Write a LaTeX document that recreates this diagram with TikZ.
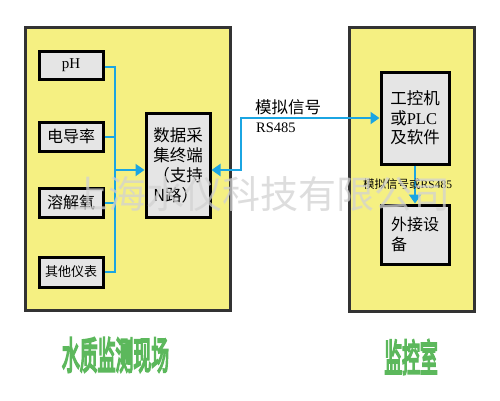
\documentclass[tikz,border=0pt]{standalone}
\usepackage{fontspec}
\setmainfont{Liberation Serif}
\newfontfamily\cjk{Noto Sans CJK SC}
\newfontfamily\cjkh[FakeBold=6]{Noto Sans CJK SC}
\usetikzlibrary{arrows.meta}
\definecolor{areafill}{RGB}{245,240,130}
\definecolor{boxfill}{RGB}{229,229,229}
\definecolor{wire}{RGB}{27,165,226}
\definecolor{headgreen}{RGB}{92,184,92}
\begin{document}
\begin{tikzpicture}[x=1pt,y=-1pt,
  area/.style={draw=black!80,line width=3pt,fill=areafill,inner sep=0pt},
  unit/.style={draw=black,line width=3pt,fill=boxfill,inner sep=0pt,align=left},
  wireline/.style={draw=wire,line width=2pt},
  tip/.style={-{Triangle[length=9pt,width=12pt]}},
  tips/.style={{Triangle[length=9pt,width=12pt]}-{Triangle[length=9pt,width=12pt]}},
  head/.style={text=headgreen,font=\cjkh\fontsize{38}{38}\selectfont,xscale=0.47,inner sep=0pt},
  lbl/.style={inner sep=0pt,anchor=west}]
\useasboundingbox (0,0) rectangle (500,400);
\fill[white] (0,0) rectangle (500,400);
% areas
\node[area,minimum width=205pt,minimum height=283pt] (field) at (127.5,168.5) {};
\node[area,minimum width=125pt,minimum height=284pt] (room) at (411.5,169) {};
% sensor boxes
\node[unit,minimum width=64pt,minimum height=28pt,font=\fontsize{15}{18}\selectfont] (ph) at (71,65) {pH};
\node[unit,minimum width=64pt,minimum height=29pt,font=\cjk\fontsize{16}{18}\selectfont] (cond) at (71,136.5) {电导率};
\node[unit,minimum width=64pt,minimum height=29pt,font=\cjk\fontsize{16}{18}\selectfont] (oxy) at (71,202.5) {溶解氧};
\node[unit,minimum width=64pt,minimum height=30pt,font=\cjk\fontsize{13}{16}\selectfont] (other) at (71,272) {其他仪表};
% data terminal
\node[unit,minimum width=64pt,minimum height=104pt,font=\cjk\fontsize{16.5}{20}\selectfont] (data) at (178,165) {数据采\\集终端\\（支持\\N路）};
% control room
\node[unit,minimum width=68pt,minimum height=92pt,font=\fontsize{16.5}{19.5}\selectfont] (ipc) at (415,118) {{\cjk 工控机}\\{\cjk 或}PLC\\{\cjk 及软件}};
\node[unit,minimum width=68pt,minimum height=59pt,font=\cjk\fontsize{16}{20}\selectfont] (ext) at (415,234.5) {外接设\\备};
% wiring
\coordinate (ttop) at (115,67);
\coordinate (tbot) at (115,272);
\coordinate (arrowy) at (0,170);
\coordinate (bend1) at (241,170);
\coordinate (bend2) at (241,118);
\draw[wireline] (ph.east |- ttop) -- (ttop) -- (tbot) -- (other.east);
\draw[wireline] (cond.east) -- (cond.east -| ttop);
\draw[wireline] (oxy.east) -- (oxy.east -| ttop);
\draw[wireline,tip] (ttop |- arrowy) -- (data.west |- arrowy);
\draw[wireline,tips] (data.east |- arrowy) -- (bend1) -- (bend2) -- (ipc.west);
\draw[wireline,tip] (ipc.south) -- (ext.north);
% labels
\node[lbl,font=\cjk\fontsize{16.5}{18}\selectfont] (l1) at (255,107) {模拟信号};
\node[lbl,font=\fontsize{14.5}{16}\selectfont] (l2) at (256,128) {RS485};
\node[lbl,font=\fontsize{11.5}{13}\selectfont] (l3) at (363,184) {{\cjk 模拟信号或}RS485};
% headings
\node[head] (h1) at (115.5,355) {水质监测现场};
\node[head] (h2) at (411,357) {监控室};
% watermark
\node[inner sep=0pt,text=gray!35,opacity=0.75,font=\cjk\fontsize{38}{40}\selectfont] (wm) at (260,194) {上海水仪科技有限公司};
\end{tikzpicture}
\end{document}
